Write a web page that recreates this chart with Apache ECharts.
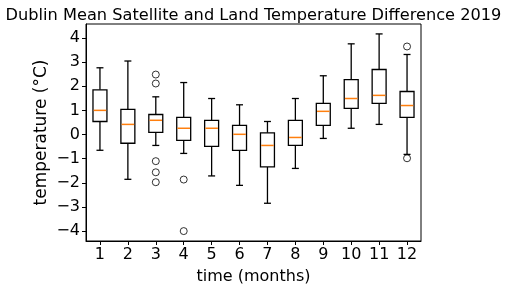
<!DOCTYPE html>
<html>
<head>
<meta charset="utf-8">
<script src="https://cdn.jsdelivr.net/npm/echarts@6/dist/echarts.min.js"></script>
<style>html,body{margin:0;padding:0;background:#fff;}#c{width:507px;height:290px;}</style>
</head>
<body>
<div id="c"></div>
<script>
const months = ['1','2','3','4','5','6','7','8','9','10','11','12'];
const whiskerLow  = [-0.65, -1.85, -0.45, -0.78, -1.71, -2.10, -2.84, -1.40, -0.16, 0.26, 0.42, -0.82];
const q1          = [ 0.54, -0.36,  0.09, -0.24, -0.49, -0.65, -1.34, -0.45,  0.38, 1.08, 1.29,  0.71];
const median      = [ 1.00,  0.42,  0.59,  0.26,  0.26,  0.01, -0.45, -0.12,  0.96, 1.49, 1.62,  1.20];
const q3          = [ 1.85,  1.04,  0.83,  0.71,  0.59,  0.38,  0.07,  0.59,  1.29, 2.27, 2.69,  1.78];
const whiskerHigh = [ 2.76,  3.04,  1.56,  2.15,  1.49,  1.23,  0.54,  1.49,  2.43, 3.75, 4.16,  3.31];
const outlierMonth = [3, 3, 3, 3, 3, 4, 4, 12, 12];
const outlierValue = [2.48, 2.11, -1.10, -1.56, -1.97, -1.86, -3.99, 3.64, -0.98];
const yTicks = [-4, -3, -2, -1, 0, 1, 2, 3, 4];

const boxData = months.map((m, i) => [i, whiskerLow[i], q1[i], median[i], q3[i], whiskerHigh[i]]);
const outData = outlierMonth.map((m, i) => [m - 1, outlierValue[i]]);

const FONT = 'DejaVu Sans';
const chart = echarts.init(document.getElementById('c'), null, {renderer: 'canvas'});
chart.setOption({
  animation: false,
  backgroundColor: '#fff',
  title: {
    text: 'Dublin Mean Satellite and Land Temperature Difference 2019',
    left: 'center', top: 3,
    textStyle: {fontFamily: FONT, fontSize: 16.2, fontWeight: 'normal', color: '#000'}
  },
  grid: {left: 86, right: 86, top: 24, bottom: 48, show: true, borderColor: '#000', borderWidth: 1, backgroundColor: 'transparent'},
  xAxis: {
    type: 'category', data: months, boundaryGap: true,
    name: 'time (months)', nameLocation: 'middle', nameGap: 28,
    nameTextStyle: {fontFamily: FONT, fontSize: 16, color: '#000'},
    axisLine: {show: true, onZero: false, lineStyle: {color: '#000', width: 1}},
    axisTick: {show: true, alignWithLabel: true, length: 4, lineStyle: {color: '#000'}},
    axisLabel: {fontFamily: FONT, fontSize: 16, color: '#000', margin: 6},
    splitLine: {show: false}
  },
  yAxis: {
    type: 'value', min: -4.4, max: 4.57,
    name: 'temperature (°C)', nameLocation: 'middle', nameGap: 36, nameRotate: 90,
    nameMoveOverlap: false,
    nameTextStyle: {fontFamily: FONT, fontSize: 17, color: '#000'},
    axisLine: {show: true, onZero: false, lineStyle: {color: '#000', width: 1}},
    axisTick: {show: true, length: 4, lineStyle: {color: '#000'}, customValues: yTicks},
    axisLabel: {fontFamily: FONT, fontSize: 16, color: '#000', margin: 6, customValues: yTicks,
      formatter: v => (v < 0 ? '\u2212' + Math.abs(v) : String(v))},
    splitLine: {show: false}
  },
  series: [
    {
      type: 'custom',
      data: boxData,
      encode: {x: 0, y: [1, 2, 3, 4, 5]},
      renderItem: function (params, api) {
        const x = api.value(0);
        const lo = api.coord([x, api.value(1)]);
        const b1 = api.coord([x, api.value(2)]);
        const md = api.coord([x, api.value(3)]);
        const b3 = api.coord([x, api.value(4)]);
        const hi = api.coord([x, api.value(5)]);
        const bw = api.size([1, 0])[0] * 0.5;
        const cx = lo[0];
        const st = {stroke: '#000', lineWidth: 1.3, fill: null};
        return {
          type: 'group',
          children: [
            {type: 'line', shape: {x1: cx, y1: b3[1], x2: cx, y2: hi[1]}, style: st},
            {type: 'line', shape: {x1: cx, y1: b1[1], x2: cx, y2: lo[1]}, style: st},
            {type: 'line', shape: {x1: cx - bw / 4, y1: hi[1], x2: cx + bw / 4, y2: hi[1]}, style: st},
            {type: 'line', shape: {x1: cx - bw / 4, y1: lo[1], x2: cx + bw / 4, y2: lo[1]}, style: st},
            {type: 'rect', shape: {x: cx - bw / 2, y: b3[1], width: bw, height: b1[1] - b3[1]}, style: {stroke: '#000', lineWidth: 1.3, fill: '#fff'}},
            {type: 'line', shape: {x1: cx - bw / 2 + 0.7, y1: md[1], x2: cx + bw / 2 - 0.7, y2: md[1]}, style: {stroke: '#ff7f0e', lineWidth: 1.5}}
          ]
        };
      },
      z: 2
    },
    {
      type: 'scatter',
      data: outData,
      symbol: 'circle', symbolSize: 7,
      itemStyle: {color: 'rgba(0,0,0,0)', borderColor: '#000', borderWidth: 1},
      z: 3
    }
  ]
});
</script>
</body>
</html>
